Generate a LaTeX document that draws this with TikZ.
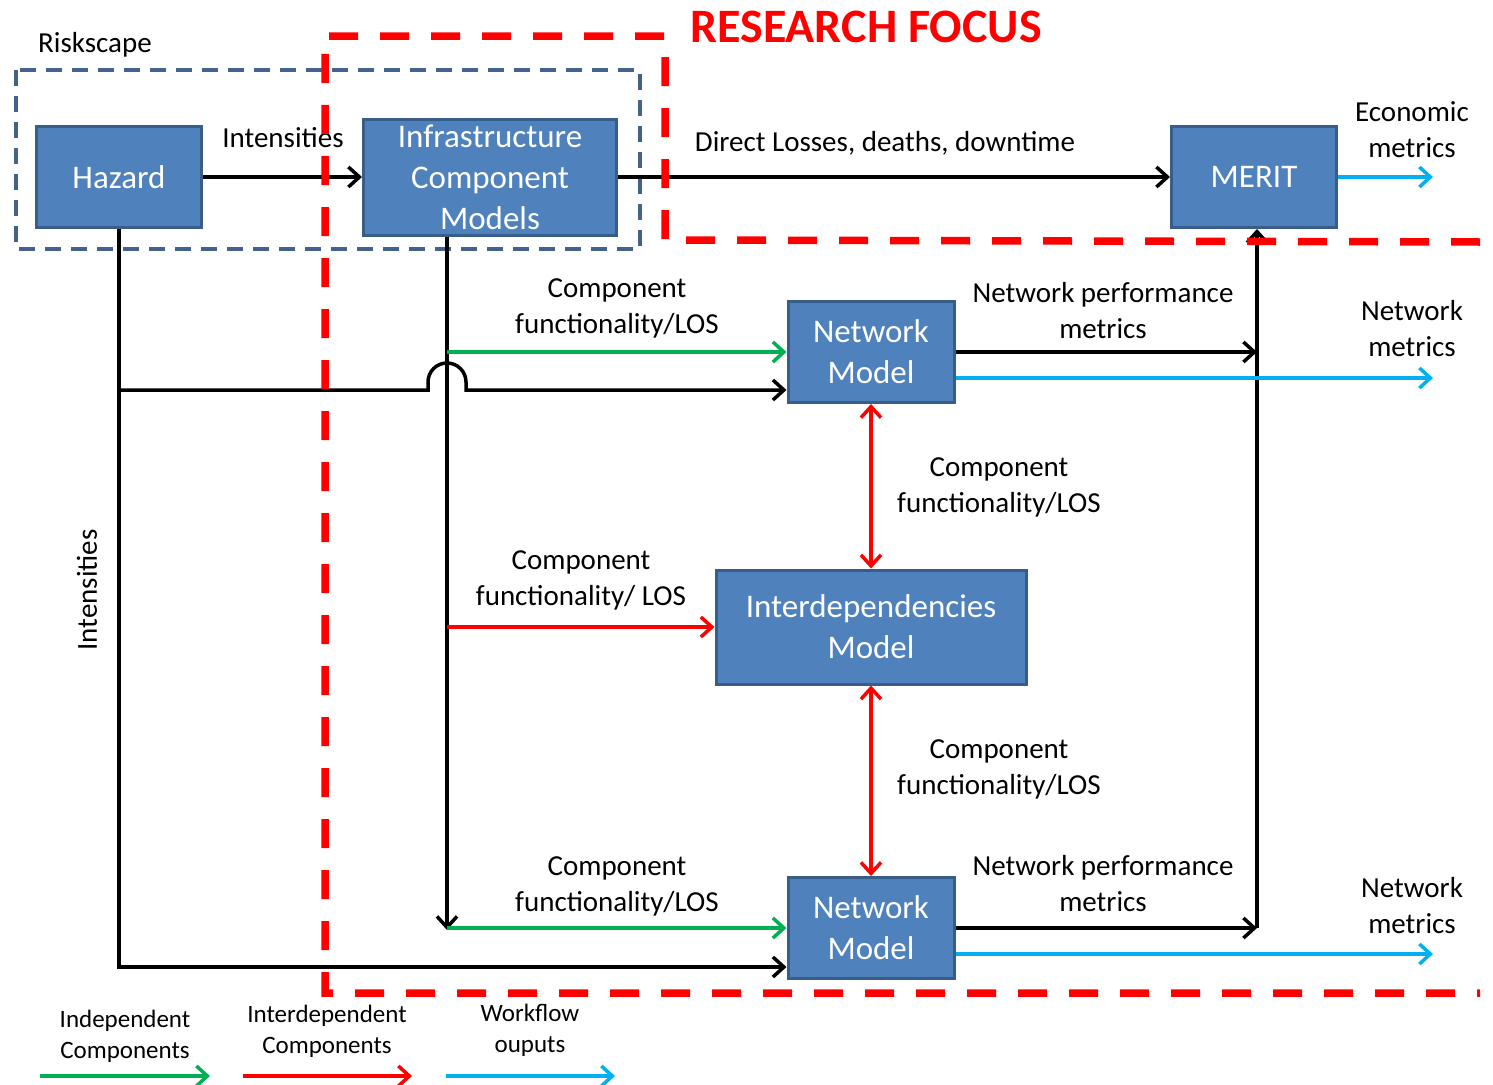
\documentclass[tikz,border=0pt]{standalone}
\usepackage{fontspec}
\setmainfont{Carlito}
\usetikzlibrary{arrows.meta}

\definecolor{boxblue}{HTML}{4F81BD}
\definecolor{boxedge}{HTML}{385D8A}
\definecolor{indepgreen}{HTML}{00B050}
\definecolor{flowcyan}{HTML}{00B0F0}
\definecolor{riskblue}{HTML}{44628C}

\begin{document}
\begin{tikzpicture}[x=1pt, y=-1pt, line width=3.5pt, >={Straight Barb[length=11pt, width=20pt]},
  model/.style={draw=boxedge, line width=3pt, fill=boxblue, text=white, align=center, inner sep=0pt, font=\fontsize{33}{41}\selectfont},
  lbl/.style={align=center, inner sep=0pt, font=\fontsize{29}{36}\selectfont},
  legendlbl/.style={align=center, inner sep=0pt, font=\fontsize{25}{31}\selectfont},
  indep/.style={->, draw=indepgreen},
  interdep/.style={->, draw=red},
  flow/.style={->, draw=flowcyan},
  focus/.style={draw=red, line width=7.5pt, dash pattern=on 29pt off 22pt},
  riskbox/.style={draw=riskblue, line width=3.5pt, dash pattern=on 16pt off 10pt}]

\useasboundingbox (0,0) rectangle (1493,1084);

% riskscape frame
\draw[riskbox] (16,70) rectangle (640,249);
\node (risk) at (95,45) [lbl] {Riskscape};

% models
\node (hazard) at (119,177)  [model, minimum width=165pt, minimum height=101pt] {Hazard};
\node (icm)    at (490,177)  [model, minimum width=253pt, minimum height=116pt] {Infrastructure\\Component\\Models};
\node (merit)  at (1254,177) [model, minimum width=165pt, minimum height=101pt] {MERIT};
\node (net1)   at (871,352)  [model, minimum width=166pt, minimum height=101pt] {Network\\Model};
\node (inter)  at (871,627)  [model, minimum width=310pt, minimum height=114pt] {Interdependencies\\Model};
\node (net2)   at (871,928)  [model, minimum width=166pt, minimum height=101pt] {Network\\Model};

% free ends
\coordinate (hzlow)   at (119,967);
\coordinate (hzhop)   at (119,390);
\coordinate (icfoot)  at (447,930);
\coordinate (merfoot) at (1257,928);
\coordinate (econ)    at (1433,177);
\coordinate (netout1) at (1433,378);
\coordinate (netout2) at (1433,954);

% hazard and component outputs
\draw[->] (hazard.east) -- (icm.west);
\draw[->] (icm.east) -- (merit.west);
\draw[->] (hazard.south) |- (hzlow -| net2.west);
\draw[->] (hzhop) -- ++(309,0) -- ++(0,-8) arc[start angle=180, end angle=0, radius=19pt] -- ++(0,8) -- (hzhop -| net1.west);
\draw[->] (icm.south -| icfoot) -- (icfoot);

\draw[indep] (net1.west -| icfoot) -- (net1.west);
\draw[interdep] (inter.west -| icfoot) -- (inter.west);
\draw[indep] (net2.west -| icfoot) -- (net2.west);

\draw[interdep, <->] (net1.south) -- (inter.north);
\draw[interdep, <->] (inter.south) -- (net2.north);

% network outputs
\draw[->] (net1.east) -- (net1.east -| merfoot);
\draw[->] (net2.east) -- (merfoot);
\draw[->] (merfoot) -- (merit.south -| merfoot);
\draw[flow] ([yshift=-26pt]net1.east) -- (netout1);
\draw[flow] ([yshift=-26pt]net2.east) -- (netout2);
\draw[flow] (merit.east) -- (econ);

% labels
\node (lint)   at (283,138)  [lbl] {Intensities};
\node (lvint)  at (87,590)   [lbl, rotate=90] {Intensities};
\node (ldirect) at (885,143) [lbl] {Direct Losses, deaths, downtime};
\node (lecon)  at (1412,130) [lbl] {Economic\\metrics};
\node (lcf1)   at (617,308)  [lbl] {Component\\functionality/LOS};
\node (lcf2)   at (999,487)  [lbl] {Component\\functionality/LOS};
\node (lcf3)   at (581,580)  [lbl] {Component\\functionality/ LOS};
\node (lcf4)   at (999,769)  [lbl] {Component\\functionality/LOS};
\node (lcf5)   at (617,886)  [lbl] {Component\\functionality/LOS};
\node (lnp1)   at (1103,311) [lbl] {Network performance\\metrics};
\node (lnp2)   at (1103,884) [lbl] {Network performance\\metrics};
\node (lnm1)   at (1412,329) [lbl] {Network\\metrics};
\node (lnm2)   at (1412,906) [lbl] {Network\\metrics};

% research focus
\draw[focus] (1480,242) -- (665,240) -- (665,36) -- (325,36) -- (325,993) -- (1480,993);
\node (focustitle) at (866,27) [inner sep=0pt, text=red, font=\fontsize{48}{56}\selectfont\bfseries] {RESEARCH FOCUS};

% legend
\node (lgindep) at (125,1036) [legendlbl] {Independent\\Components};
\node (lginter) at (327,1031) [legendlbl] {Interdependent\\Components};
\node (lgflow)  at (530,1030) [legendlbl] {Workflow\\ouputs};
\coordinate (lg1a) at (40,1076);
\coordinate (lg1b) at (210,1076);
\coordinate (lg2a) at (243,1076);
\coordinate (lg2b) at (412,1076);
\coordinate (lg3a) at (446,1076);
\coordinate (lg3b) at (615,1076);
\draw[indep] (lg1a) -- (lg1b);
\draw[interdep] (lg2a) -- (lg2b);
\draw[flow] (lg3a) -- (lg3b);

\end{tikzpicture}
\end{document}
